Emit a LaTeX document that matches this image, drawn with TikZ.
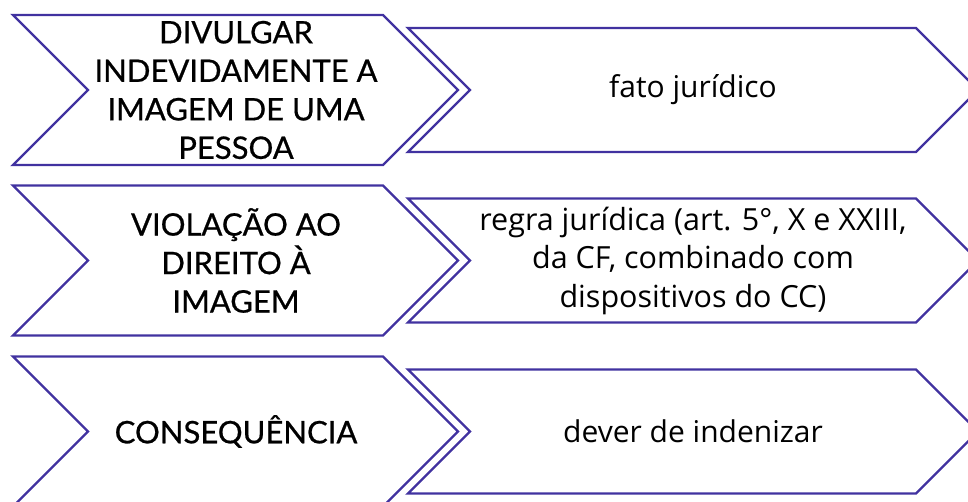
\documentclass[tikz,border=0pt]{standalone}
\usepackage{fontspec}
\setmainfont{Open Sans}
\newfontfamily\capfont[FakeBold=0.7]{Lato}
\definecolor{chev}{RGB}{65,50,160}
\begin{document}
\begin{tikzpicture}[x=1pt,y=-1pt,
  chevline/.style={draw=chev, line width=2.3pt, line join=miter},
  lefttext/.style={font=\capfont\fontsize{31}{38.5}\selectfont, align=center, text=black, inner sep=0pt},
  righttext/.style={font=\fontsize{30}{38.5}\selectfont, align=center, text=black, inner sep=0pt}]
\useasboundingbox (0,0) rectangle (968,501);
\clip (0,0) rectangle (968,501);
\foreach \cy/\n in {90/a,260.5/b,431.5/c} {
  \draw[chevline] (13,\cy-75) -- (383,\cy-75) -- (458,\cy) -- (383,\cy+75)
    -- (13,\cy+75) -- (88,\cy) -- cycle;
  \draw[chevline] (408,\cy-62) -- (916,\cy-62) -- (978,\cy) -- (916,\cy+62)
    -- (408,\cy+62) -- (470,\cy) -- cycle;
}
\node[lefttext] (l1) at (236,90) {DIVULGAR\\INDEVIDAMENTE A\\IMAGEM DE UMA\\PESSOA};
\node[lefttext] (l2) at (236,260.5) {VIOLAÇÃO AO\\DIREITO À\\IMAGEM};
\node[lefttext] (l3) at (236,431.5) {CONSEQUÊNCIA};
\node[righttext] (r1) at (693,90) {fato jurídico};
\node[righttext, font=\fontsize{30.5}{38.5}\selectfont] (r2) at (693,260.5) {regra jurídica (art. 5°, X e XXIII,\\da CF, combinado com\\dispositivos do CC)};
\node[righttext] (r3) at (693,431.5) {dever de indenizar};
\end{tikzpicture}
\end{document}
